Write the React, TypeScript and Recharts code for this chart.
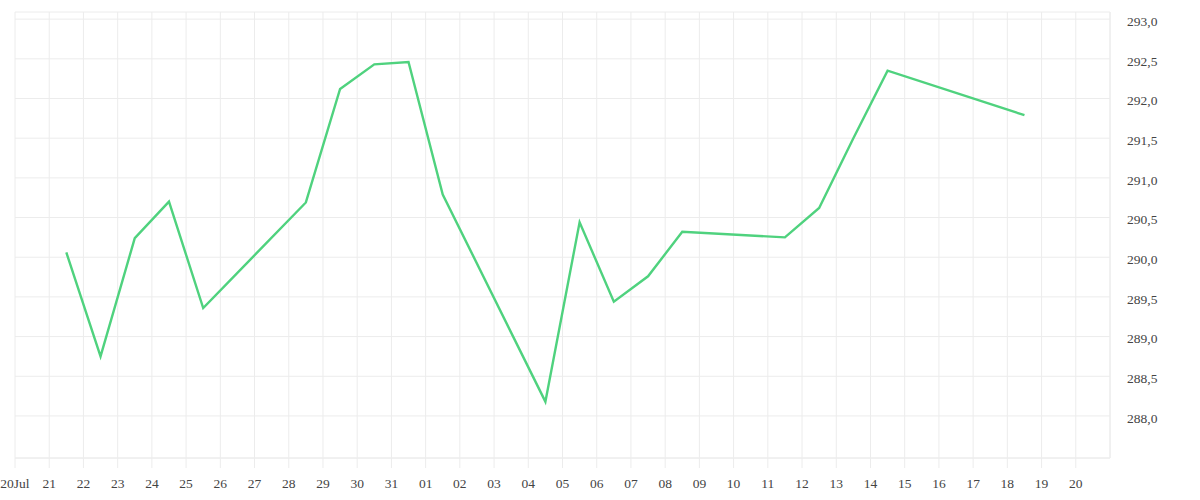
import React from "react";
import { LineChart, Line, XAxis, YAxis, CartesianGrid } from "recharts";

const dates: string[] = [
  "2014-07-21T12:00Z", "2014-07-22T12:00Z", "2014-07-23T12:00Z", "2014-07-24T12:00Z",
  "2014-07-25T12:00Z", "2014-07-28T12:00Z", "2014-07-29T12:00Z", "2014-07-30T12:00Z",
  "2014-07-31T12:00Z", "2014-08-01T12:00Z", "2014-08-04T12:00Z", "2014-08-05T12:00Z",
  "2014-08-06T12:00Z", "2014-08-07T12:00Z", "2014-08-08T12:00Z", "2014-08-11T12:00Z",
  "2014-08-12T12:00Z", "2014-08-13T12:00Z", "2014-08-14T12:00Z", "2014-08-18T12:00Z",
];

const values: number[] = [
  290.06, 288.75, 290.24, 290.7, 289.36, 290.69, 292.12, 292.43, 292.46, 290.79,
  288.18, 290.44, 289.44, 289.76, 290.32, 290.25, 290.62, 291.5, 292.35, 291.79,
];

const tickDates: string[] = [
  "2014-07-20", "2014-07-21", "2014-07-22", "2014-07-23", "2014-07-24", "2014-07-25",
  "2014-07-26", "2014-07-27", "2014-07-28", "2014-07-29", "2014-07-30", "2014-07-31",
  "2014-08-01", "2014-08-02", "2014-08-03", "2014-08-04", "2014-08-05", "2014-08-06",
  "2014-08-07", "2014-08-08", "2014-08-09", "2014-08-10", "2014-08-11", "2014-08-12",
  "2014-08-13", "2014-08-14", "2014-08-15", "2014-08-16", "2014-08-17", "2014-08-18",
  "2014-08-19", "2014-08-20",
];

const tickLabels: string[] = [
  "20Jul", "21", "22", "23", "24", "25", "26", "27", "28", "29", "30", "31",
  "01", "02", "03", "04", "05", "06", "07", "08", "09", "10", "11", "12",
  "13", "14", "15", "16", "17", "18", "19", "20",
];

const yTicks: number[] = [288, 288.5, 289, 289.5, 290, 290.5, 291, 291.5, 292, 292.5, 293];

const xDomainDates: string[] = ["2014-07-20", "2014-08-21"];
const yDomain: number[] = [287.47, 293.09];

const toTs = (s: string) => new Date(s.length === 10 ? s + "T00:00Z" : s).getTime();

const data = dates.map((d, i) => ({ t: toTs(d), v: values[i] }));
const xTicks = tickDates.map(toTs);
const xDomain = xDomainDates.map(toTs);

const GRID = "#ececec";
const FONT = "'Liberation Serif', serif";

export default function App() {
  return (
    <div style={{ position: "absolute", left: 0, top: 0, width: 1200, height: 500 }}>
      <LineChart
        width={1200}
        height={500}
        data={data}
        margin={{ top: 12, right: 0, bottom: 0, left: 15 }}
      >
        <CartesianGrid stroke={GRID} strokeWidth={1} />
        <XAxis
          dataKey="t"
          type="number"
          domain={xDomain}
          ticks={xTicks}
          interval={0}
          height={42}
          tickSize={10}
          tickMargin={10}
          axisLine={{ stroke: GRID }}
          tickLine={{ stroke: GRID }}
          tick={{ fill: "#444", fontSize: 13.5, fontFamily: FONT }}
          tickFormatter={(v: number) => {
            const i = xTicks.indexOf(v);
            return i >= 0 ? tickLabels[i] : "";
          }}
          allowDataOverflow
        />
        <YAxis
          orientation="right"
          type="number"
          domain={yDomain}
          ticks={yTicks}
          interval={0}
          width={90}
          tickLine={false}
          tickMargin={11}
          axisLine={{ stroke: GRID }}
          tick={{ fill: "#444", fontSize: 13.5, fontFamily: FONT, dy: 2 }}
          tickFormatter={(v: number) => v.toFixed(1).replace(".", ",")}
          allowDataOverflow
        />
        <Line
          type="linear"
          dataKey="v"
          stroke="#4fd27e"
          strokeWidth={2.4}
          dot={false}
          activeDot={false}
          isAnimationActive={false}
        />
      </LineChart>
    </div>
  );
}
